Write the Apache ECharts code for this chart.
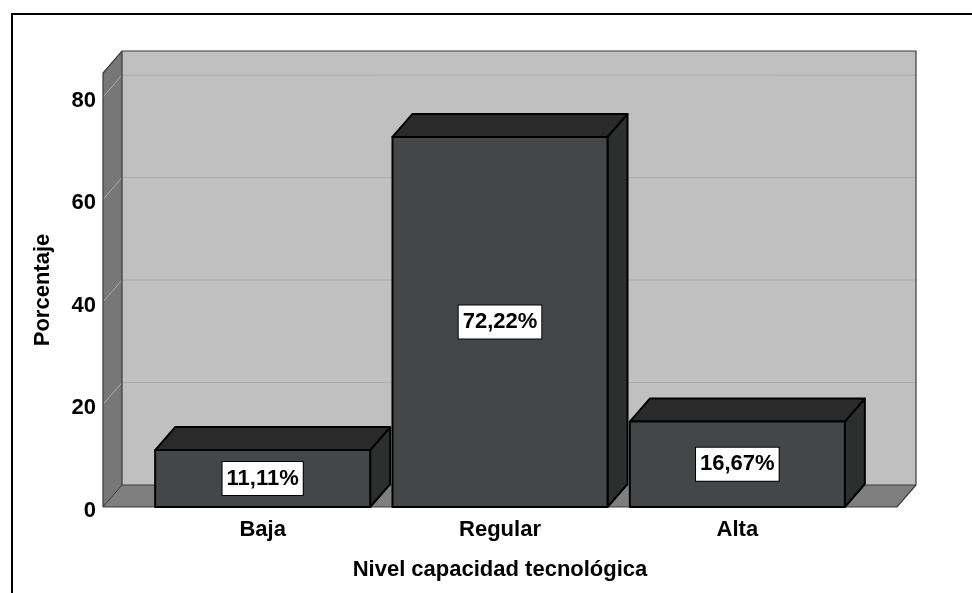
<!DOCTYPE html>
<html>
<head>
<meta charset="utf-8">
<script src="https://cdn.jsdelivr.net/npm/echarts@6/dist/echarts.min.js"></script>
<style>
  html, body { margin: 0; padding: 0; background: #ffffff; }
  #chart { width: 972px; height: 593px; }
</style>
</head>
<body>
<div id="chart"></div>
<script>
// Data
const categories = ['Baja', 'Regular', 'Alta'];
const percentages = [11.11, 72.22, 16.67];
const yTicks = [0, 20, 40, 60, 80];
const yMax = 84.7;

// Pseudo-3D geometry (pixels)
const SIDE_PAD = 41;     // floor/wall extension beyond the category band
const WALL_DX = 19, WALL_DY = 22;
const BAR_DX = 20, BAR_DY = 23;
const BAR_RATIO = 0.906;
const FONT = '"Liberation Sans", Arial, sans-serif';

function fmtPct(v) {
  return v.toFixed(2).replace('.', ',') + '%';
}

function renderWalls(params, api) {
  const cs = params.coordSys;
  const L = cs.x - SIDE_PAD;
  const R = cs.x + cs.width + SIDE_PAD;
  const yTop = cs.y;
  const y0 = api.coord([0, 0])[1];
  const edge = '#3a3a3a';
  const children = [
    { type: 'rect',
      shape: { x: L + WALL_DX, y: yTop - WALL_DY, width: R - L, height: y0 - yTop },
      style: { fill: '#c0c0c0', stroke: null } },
    { type: 'polygon',
      shape: { points: [[L, yTop], [L + WALL_DX, yTop - WALL_DY], [L + WALL_DX, y0 - WALL_DY], [L, y0]] },
      style: { fill: '#777777', stroke: null } },
    { type: 'polygon',
      shape: { points: [[L, y0], [L + WALL_DX, y0 - WALL_DY], [R + WALL_DX, y0 - WALL_DY], [R, y0]] },
      style: { fill: '#7f7f7f', stroke: null } }
  ];
  yTicks.forEach(function (t) {
    if (t === 0) return;
    const y = api.coord([0, t])[1];
    children.push({
      type: 'polyline',
      shape: { points: [[L, y], [L + WALL_DX, y - WALL_DY], [R + WALL_DX, y - WALL_DY]] },
      style: { stroke: '#ababab', lineWidth: 1, fill: null }
    });
  });
  // outlines of the walls
  children.push({
    type: 'polyline',
    shape: { points: [[L, y0], [L, yTop], [L + WALL_DX, yTop - WALL_DY], [R + WALL_DX, yTop - WALL_DY],
                      [R + WALL_DX, y0 - WALL_DY], [R, y0], [L, y0]] },
    style: { stroke: edge, lineWidth: 1.2, fill: null }
  });
  children.push({
    type: 'polyline',
    shape: { points: [[L + WALL_DX, yTop - WALL_DY], [L + WALL_DX, y0 - WALL_DY], [R + WALL_DX, y0 - WALL_DY]] },
    style: { stroke: edge, lineWidth: 1.2, fill: null }
  });
  children.push({
    type: 'line',
    shape: { x1: L, y1: y0, x2: L + WALL_DX, y2: y0 - WALL_DY },
    style: { stroke: edge, lineWidth: 1, fill: null }
  });
  return { type: 'group', children: children };
}

function renderBar(params, api) {
  const idx = api.value(0);
  const v = api.value(1);
  const top = api.coord([idx, v]);
  const base = api.coord([idx, 0]);
  const w = api.size([1, 0])[0] * BAR_RATIO;
  const x1 = top[0] - w / 2, x2 = top[0] + w / 2;
  const yv = top[1], y0 = base[1];
  const stroke = { stroke: '#000000', lineWidth: 2, lineJoin: 'round' };
  return {
    type: 'group',
    children: [
      { type: 'polygon',
        shape: { points: [[x2, yv], [x2 + BAR_DX, yv - BAR_DY], [x2 + BAR_DX, y0 - BAR_DY], [x2, y0]] },
        style: Object.assign({ fill: '#2d2f2e' }, stroke) },
      { type: 'polygon',
        shape: { points: [[x1, yv], [x1 + BAR_DX, yv - BAR_DY], [x2 + BAR_DX, yv - BAR_DY], [x2, yv]] },
        style: Object.assign({ fill: '#2a2a2a' }, stroke) },
      { type: 'rect',
        shape: { x: x1, y: yv, width: w, height: y0 - yv },
        style: Object.assign({ fill: '#454648' }, stroke) },
      { type: 'text',
        x: top[0], y: (yv + y0) / 2,
        style: {
          text: fmtPct(v), fill: '#000000', font: 'bold 22px ' + FONT,
          align: 'center', verticalAlign: 'middle',
          backgroundColor: '#ffffff', borderColor: '#000000', borderWidth: 1,
          padding: [6, 4, 5, 4]
        } }
    ]
  };
}

const axisText = { color: '#000', fontSize: 22, fontWeight: 'bold', fontFamily: FONT };

const chart = echarts.init(document.getElementById('chart'), null, { renderer: 'canvas' });
chart.setOption({
  backgroundColor: '#ffffff',
  animation: false,
  textStyle: { fontFamily: FONT },
  graphic: [{
    type: 'polyline',
    shape: { points: [[12, 593], [12, 14], [972, 14]] },
    style: { stroke: '#000000', lineWidth: 2, fill: null },
    z: 10
  }],
  grid: { left: 144, right: 116, top: 73, bottom: 86 },
  xAxis: {
    type: 'category',
    data: categories,
    axisLine: { show: false },
    axisTick: { show: false },
    axisLabel: Object.assign({ margin: 12 }, axisText),
    name: 'Nivel capacidad tecnológica',
    nameLocation: 'middle',
    nameGap: 52,
    nameTextStyle: axisText
  },
  yAxis: {
    type: 'value',
    min: 0, max: yMax, interval: 20,
    axisLine: { show: false },
    axisTick: { show: false },
    splitLine: { show: false },
    axisLabel: Object.assign({ margin: 48, showMaxLabel: false,
                               verticalAlign: 'top', lineHeight: 7 }, axisText),
    name: 'Porcentaje',
    nameLocation: 'middle',
    nameGap: 90,
    nameTextStyle: axisText
  },
  series: [
    { type: 'custom', renderItem: renderWalls, data: [[0, 0]],
      encode: { x: 0, y: 1 }, silent: true, z: 1 },
    { type: 'custom', renderItem: renderBar,
      data: percentages.map(function (v, i) { return [i, v]; }),
      encode: { x: 0, y: 1 }, z: 2 }
  ]
});
</script>
</body>
</html>
